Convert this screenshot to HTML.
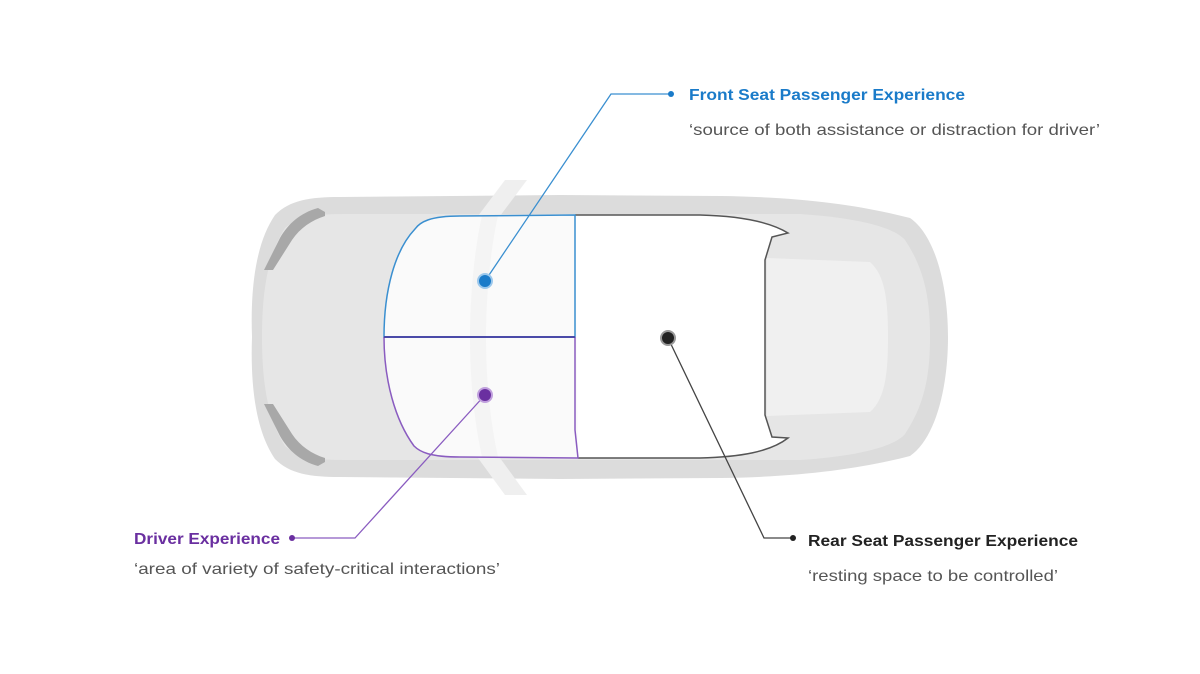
<!DOCTYPE html>
<html><head><meta charset="utf-8"><style>
html,body{margin:0;padding:0;background:#fff;width:1200px;height:674px;overflow:hidden}
svg{display:block}
text{font-family:"Liberation Sans",sans-serif}
</style></head><body>
<svg width="1200" height="674" viewBox="0 0 1200 674">
<path d="M252 337 C250 280 258 240 275 215 C290 200 310 197 340 197 L560 195 L720 196 C800 197 860 205 910 218 C935 235 948 285 948 337 C948 389 935 439 910 456 C860 469 800 477 720 478 L560 479 L340 477 C310 477 290 474 275 459 C258 434 250 394 252 337 Z" fill="#dcdcdc"/>
<path d="M262 337 C262 290 268 255 285 228 C300 215 320 214 350 214 L800 214 C860 218 895 228 905 240 C925 270 930 300 930 337 C930 374 925 404 905 434 C895 446 860 456 800 460 L350 460 C320 460 300 459 285 446 C268 419 262 384 262 337 Z" fill="#e6e6e6"/>
<path d="M767 258 L870 262 C885 275 888 300 888 337 C888 374 885 399 870 412 L767 416 Z" fill="#f0f0f0"/>
<path d="M325 212 L318 208 C300 213 288 224 280 238 L264 270 L273 270 L292 240 C300 228 312 220 325 216 Z" fill="#a8a8a8"/>
<path d="M325 462 L318 466 C300 461 288 450 280 436 L264 404 L273 404 L292 434 C300 446 312 454 325 458 Z" fill="#a8a8a8"/>
<path d="M505 180 L527 180 L500 216 L478 216 Z" fill="#efefef"/>
<path d="M478 458 L500 458 L527 495 L505 495 Z" fill="#efefef"/>
<path d="M415 229 C420 222 430 216 460 216 L575 215 L700 215 C740 216 770 222 788 233 L772 237 L765 260 L765 415 L772 437 L788 438 C770 452 740 457 700 458 L578 458 L460 457 C430 457 420 452 414 446 C395 420 384 380 384 337 C384 290 395 250 415 229 Z" fill="#fafafa"/>
<path d="M482 216 L498 216 C490 250 486 300 486 337 C486 380 490 420 498 457 L482 457 C474 420 470 380 470 337 C470 300 474 250 482 216Z" fill="#f3f3f3" opacity="0.8"/>
<path d="M575 215 L700 215 C740 216 770 222 788 233 L772 237 L765 260 L765 415 L772 437 L788 438 C770 452 740 457 700 458 L578 458 Z" fill="#fff"/>
<path d="M575 215 L700 215 C740 216 770 222 788 233 L772 237 L765 260 L765 415 L772 437 L788 438 C770 452 740 457 700 458 L578 458" fill="none" stroke="#555" stroke-width="1.5"/>
<path d="M384 337 C384 290 395 250 415 229 C420 222 430 216 460 216 L575 215 L575 337 Z" fill="none" stroke="#3a8fd0" stroke-width="1.5"/>
<path d="M384 337 C384 380 395 420 414 446 C420 452 430 457 460 457 L578 458 L575 430 L575 337" fill="none" stroke="#8a5cc0" stroke-width="1.5"/>
<line x1="384" y1="337" x2="575" y2="337" stroke="#4a4aa8" stroke-width="2"/>
<polyline points="671,94 611,94 485,281" fill="none" stroke="#3a8fd0" stroke-width="1.3"/>
<circle cx="671" cy="94" r="3" fill="#1a7bc9"/>
<circle cx="485" cy="281" r="7" fill="#1a7bc9" stroke="#9cc8ec" stroke-width="2"/>
<polyline points="292,538 355,538 485,395" fill="none" stroke="#8a5cc0" stroke-width="1.3"/>
<circle cx="292" cy="538" r="3" fill="#6a2fa0"/>
<circle cx="485" cy="395" r="7" fill="#6a2fa0" stroke="#c0a0dd" stroke-width="2"/>
<polyline points="668,338 764,538 793,538" fill="none" stroke="#444" stroke-width="1.3"/>
<circle cx="793" cy="538" r="3" fill="#222"/>
<circle cx="668" cy="338" r="7" fill="#222" stroke="#999" stroke-width="2"/>
<text x="689" y="100" font-size="16" font-weight="bold" fill="#1a7bc9" textLength="276" lengthAdjust="spacingAndGlyphs">Front Seat Passenger Experience</text>
<text x="689" y="135" font-size="16" fill="#555" textLength="411" lengthAdjust="spacingAndGlyphs">‘source of both assistance or distraction for driver’</text>
<text x="134" y="544" font-size="16" font-weight="bold" fill="#6a2fa0" textLength="146" lengthAdjust="spacingAndGlyphs">Driver Experience</text>
<text x="134" y="574" font-size="16" fill="#555" textLength="366" lengthAdjust="spacingAndGlyphs">‘area of variety of safety-critical interactions’</text>
<text x="808" y="546" font-size="16" font-weight="bold" fill="#222" textLength="270" lengthAdjust="spacingAndGlyphs">Rear Seat Passenger Experience</text>
<text x="808" y="581" font-size="16" fill="#555" textLength="250" lengthAdjust="spacingAndGlyphs">‘resting space to be controlled’</text>
</svg>
</body></html>
